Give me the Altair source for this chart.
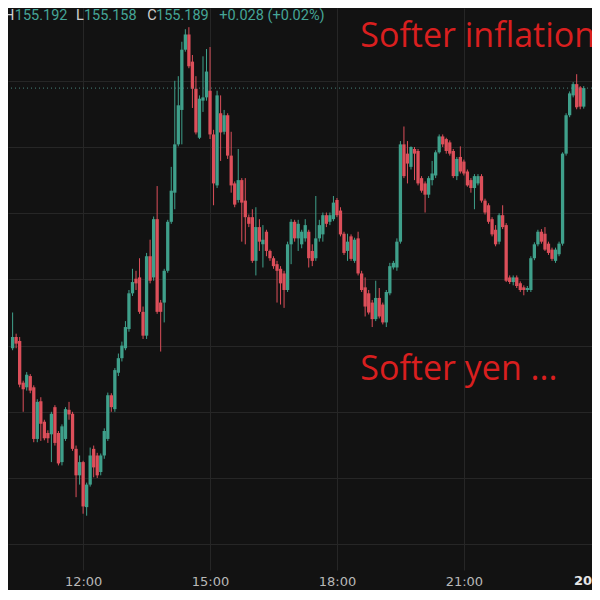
import altair as alt
import pandas as pd

# ---------------- data (5-minute candles, USD/JPY) ----------------
start_time = "2024-11-19 10:20"

opens = [
    154.796, 154.813, 154.807, 154.744, 154.737, 154.754, 154.737, 154.659, 154.716, 154.685,
    154.668, 154.666, 154.707, 154.668, 154.624, 154.659, 154.703, 154.697, 154.644, 154.604,
    154.624, 154.556, 154.590, 154.644, 154.634, 154.609, 154.634, 154.659, 154.725, 154.704,
    154.759, 154.781, 154.796, 154.825, 154.879, 154.901, 154.903, 154.851, 154.815, 154.935,
    154.903, 154.991, 154.865, 154.865, 154.913, 154.987, 155.031, 155.104, 155.156, 155.247,
    155.270, 155.229, 155.188, 155.114, 155.170, 155.175, 155.185, 155.119, 155.042, 155.151,
    155.123, 155.148, 155.087, 155.045, 155.020, 155.050, 155.019, 154.994, 154.994, 154.928,
    154.979, 154.953, 154.972, 154.943, 154.932, 154.923, 154.916, 154.909, 154.884, 154.953,
    154.987, 154.962, 154.953, 154.962, 154.972, 154.943, 154.932, 154.962, 154.968, 154.997,
    154.987, 154.991, 155.020, 155.004, 154.969, 154.943, 154.965, 154.928, 154.962, 154.909,
    154.888, 154.879, 154.865, 154.840, 154.872, 154.862, 154.835, 154.879, 154.918, 154.918,
    154.957, 155.104, 155.090, 155.070, 155.097, 155.094, 155.053, 155.045, 155.028, 155.050,
    155.057, 155.092, 155.116, 155.112, 155.107, 155.094, 155.056, 155.085, 155.078, 155.063,
    155.050, 155.038, 155.045, 155.056, 155.019, 155.012, 154.991, 154.975, 154.957, 154.997,
    154.982, 154.903, 154.896, 154.903, 154.894, 154.888, 154.884, 154.884, 154.932, 154.953,
    154.972, 154.969, 154.954, 154.945, 154.928, 154.938, 154.954, 155.090, 155.148, 155.178,
    155.195, 155.190, 155.161,
]
highs = [
    154.850, 154.818, 154.813, 154.747, 154.760, 154.757, 154.740, 154.719, 154.722, 154.688,
    154.672, 154.700, 154.710, 154.671, 154.681, 154.707, 154.715, 154.700, 154.649, 154.634,
    154.626, 154.593, 154.646, 154.649, 154.638, 154.637, 154.675, 154.729, 154.728, 154.766,
    154.788, 154.806, 154.837, 154.884, 154.916, 154.913, 154.932, 154.859, 154.940, 154.960,
    154.995, 155.041, 154.869, 154.916, 154.990, 155.070, 155.200, 155.207, 155.259, 155.278,
    155.281, 155.239, 155.207, 155.178, 155.237, 155.248, 155.251, 155.126, 155.185, 155.178,
    155.156, 155.151, 155.123, 155.048, 155.097, 155.053, 155.053, 154.998, 155.006, 155.009,
    154.991, 154.982, 154.975, 154.945, 154.935, 154.928, 154.920, 154.913, 154.957, 154.991,
    154.990, 154.990, 154.975, 154.991, 154.975, 154.953, 155.026, 154.990, 155.001, 155.001,
    155.001, 155.026, 155.023, 155.009, 154.972, 154.969, 154.968, 154.963, 154.972, 154.913,
    154.903, 154.884, 154.869, 154.898, 154.887, 154.865, 154.884, 154.925, 154.928, 154.962,
    155.109, 155.131, 155.109, 155.101, 155.100, 155.097, 155.056, 155.048, 155.056, 155.079,
    155.095, 155.119, 155.119, 155.114, 155.110, 155.097, 155.085, 155.101, 155.081, 155.066,
    155.053, 155.059, 155.059, 155.059, 155.022, 155.015, 154.994, 154.982, 155.000, 155.012,
    154.985, 154.906, 154.906, 154.906, 154.897, 154.891, 154.890, 154.935, 154.956, 154.975,
    154.976, 154.979, 154.957, 154.948, 154.948, 154.957, 155.092, 155.151, 155.184, 155.198,
    155.210, 155.192, 155.192,
]
lows = [
    154.793, 154.796, 154.737, 154.700, 154.732, 154.728, 154.654, 154.654, 154.656, 154.657,
    154.653, 154.624, 154.649, 154.619, 154.619, 154.656, 154.688, 154.641, 154.571, 154.590,
    154.546, 154.543, 154.587, 154.601, 154.600, 154.604, 154.629, 154.656, 154.700, 154.700,
    154.754, 154.776, 154.793, 154.821, 154.875, 154.884, 154.848, 154.810, 154.810, 154.894,
    154.898, 154.848, 154.791, 154.835, 154.910, 154.984, 155.006, 155.101, 155.104, 155.244,
    155.219, 155.159, 155.119, 155.112, 155.153, 155.170, 155.112, 155.012, 155.038, 155.079,
    155.119, 155.082, 155.031, 155.009, 155.016, 154.957, 154.953, 154.979, 154.925, 154.906,
    154.943, 154.918, 154.935, 154.928, 154.916, 154.865, 154.862, 154.857, 154.881, 154.923,
    154.957, 154.943, 154.947, 154.957, 154.918, 154.920, 154.928, 154.957, 154.957, 154.979,
    154.982, 154.988, 154.994, 154.965, 154.937, 154.928, 154.928, 154.925, 154.906, 154.881,
    154.844, 154.847, 154.828, 154.837, 154.841, 154.832, 154.828, 154.876, 154.915, 154.913,
    154.954, 155.053, 155.045, 155.066, 155.050, 155.042, 155.031, 155.001, 155.023, 155.042,
    155.053, 155.090, 155.100, 155.090, 155.087, 155.053, 155.050, 155.060, 155.057, 155.040,
    155.031, 155.006, 155.042, 155.016, 154.998, 154.984, 154.965, 154.950, 154.953, 154.976,
    154.896, 154.893, 154.891, 154.887, 154.881, 154.876, 154.881, 154.881, 154.929, 154.950,
    154.954, 154.943, 154.937, 154.928, 154.925, 154.935, 154.951, 155.087, 155.145, 155.175,
    155.157, 155.157, 155.158,
]
closes = [
    154.813, 154.803, 154.741, 154.734, 154.756, 154.732, 154.659, 154.715, 154.682, 154.660,
    154.660, 154.697, 154.653, 154.622, 154.678, 154.704, 154.696, 154.644, 154.604, 154.624,
    154.557, 154.590, 154.634, 154.616, 154.604, 154.634, 154.671, 154.725, 154.707, 154.763,
    154.781, 154.800, 154.828, 154.879, 154.896, 154.894, 154.851, 154.815, 154.935, 154.898,
    154.991, 154.851, 154.851, 154.913, 154.987, 155.034, 155.104, 155.163, 155.247, 155.270,
    155.222, 155.188, 155.122, 155.173, 155.175, 155.214, 155.119, 155.045, 155.178, 155.122,
    155.148, 155.087, 155.042, 155.013, 155.050, 155.016, 154.994, 154.984, 154.928, 154.979,
    154.957, 154.960, 154.943, 154.932, 154.920, 154.913, 154.894, 154.884, 154.953, 154.987,
    154.962, 154.984, 154.972, 154.982, 154.932, 154.928, 154.962, 154.982, 154.997, 154.984,
    154.997, 155.016, 154.997, 154.968, 154.940, 154.957, 154.931, 154.960, 154.909, 154.884,
    154.859, 154.850, 154.840, 154.872, 154.844, 154.835, 154.881, 154.920, 154.925, 154.957,
    155.104, 155.056, 155.075, 155.100, 155.090, 155.045, 155.034, 155.028, 155.053, 155.060,
    155.092, 155.116, 155.104, 155.094, 155.090, 155.056, 155.082, 155.063, 155.060, 155.042,
    155.038, 155.056, 155.056, 155.019, 155.001, 154.987, 154.968, 154.953, 154.997, 154.979,
    154.898, 154.896, 154.903, 154.890, 154.884, 154.884, 154.887, 154.932, 154.953, 154.972,
    154.957, 154.945, 154.940, 154.931, 154.945, 154.954, 155.090, 155.148, 155.181, 155.195,
    155.160, 155.161, 155.189,
]

last_close = 155.189
grid_prices = [154.5, 154.6, 154.7, 154.8, 154.9, 155.0, 155.1, 155.2]
header_labels = ["H", "155.192", "L", "155.158", "C", "155.189", "+0.028 (+0.02%)"]
annotations = ["Softer inflation", "Softer yen ..."]
day_label = "20"

# ---------------- styling ----------------
BG = "#121212"
GRID = "#262626"
UP = "#3fa08b"
DOWN = "#dc4f5a"
W, H = 584, 562

times = pd.date_range(start_time, periods=len(closes), freq="5min").strftime("%Y-%m-%dT%H:%M:%S")
df = pd.DataFrame({"t": times, "o": opens, "h": highs, "l": lows, "c": closes})


def dt(day, hh, mm=0, ss=0):
    return alt.DateTime(year=2024, month=11, date=day, hours=hh, minutes=mm, seconds=ss)


x_scale = alt.Scale(domain=[dt(19, 10, 20, 33), dt(19, 23, 54, 38)])
x_axis = alt.Axis(
    values=[dt(19, 12), dt(19, 15), dt(19, 18), dt(19, 21)],
    format="%H:%M",
    grid=True, gridColor=GRID, gridWidth=1, ticks=False, domain=False, title=None,
    labelFont="DejaVu Sans", labelFontSize=13, labelPadding=5, labelColor="#b8b8b8",
)
y_scale = alt.Scale(domain=[154.461, 155.310], nice=False, zero=False)
y_axis = alt.Axis(values=grid_prices, grid=True, gridColor=GRID, gridWidth=1,
                  labels=False, ticks=False, domain=False, title=None)

color = alt.condition("datum.c >= datum.o", alt.value(UP), alt.value(DOWN))

base = alt.Chart(df)
wicks = base.mark_rule(strokeWidth=1).encode(
    x=alt.X("t:T", scale=x_scale, axis=x_axis),
    y=alt.Y("l:Q", scale=y_scale, axis=y_axis),
    y2="h:Q",
    color=color,
)
bodies = base.mark_bar(size=3.3).encode(
    x=alt.X("t:T", scale=x_scale, axis=x_axis),
    y=alt.Y("o:Q", scale=y_scale, axis=y_axis),
    y2="c:Q",
    color=color,
)
price_line = alt.Chart(pd.DataFrame({"p": [last_close]})).mark_rule(
    color="#4d8f86", strokeDash=[1, 3], strokeWidth=1, opacity=0.9
).encode(y=alt.Y("p:Q", scale=y_scale, axis=y_axis))


def text_layer(s, x, y, color, size, font, weight="normal", align="left", baseline="alphabetic"):
    return alt.Chart(pd.DataFrame({"s": [s]})).mark_text(
        align=align, baseline=baseline, font=font, fontSize=size,
        color=color, fontWeight=weight
    ).encode(x=alt.value(x), y=alt.value(y), text="s:N")


LETTER = "#cfcfcf"
VALUE = "#45a597"
header_x = [-4, 6.8, 68.1, 75.9, 139.2, 148.0, 211.2]
header_c = [LETTER, VALUE, LETTER, VALUE, LETTER, VALUE, VALUE]
header = [text_layer(s, x, 12, c, 14.5, "Roboto")
          for s, x, c in zip(header_labels, header_x, header_c)]

ann1 = text_layer(annotations[0], 352.3, 38.9, "#d91f1f", 34, "Open Sans")
ann2 = text_layer(annotations[1], 352.3, 371.8, "#d91f1f", 34, "Open Sans")
day = text_layer(day_label, 584, H + 5, "#e6e6e6", 13, "DejaVu Sans", weight="bold",
                 align="right", baseline="top")

chart = alt.layer(wicks, bodies, price_line, *header, ann1, ann2, day).properties(
    width=W, height=H,
    autosize=alt.AutoSizeParams(type="none"),
    padding={"left": 0, "top": 0, "right": 0, "bottom": 20},
    background=BG,
).configure_view(strokeWidth=0, fill=BG)

chart.save("out.html", embed_options={"renderer": "svg", "actions": False})
